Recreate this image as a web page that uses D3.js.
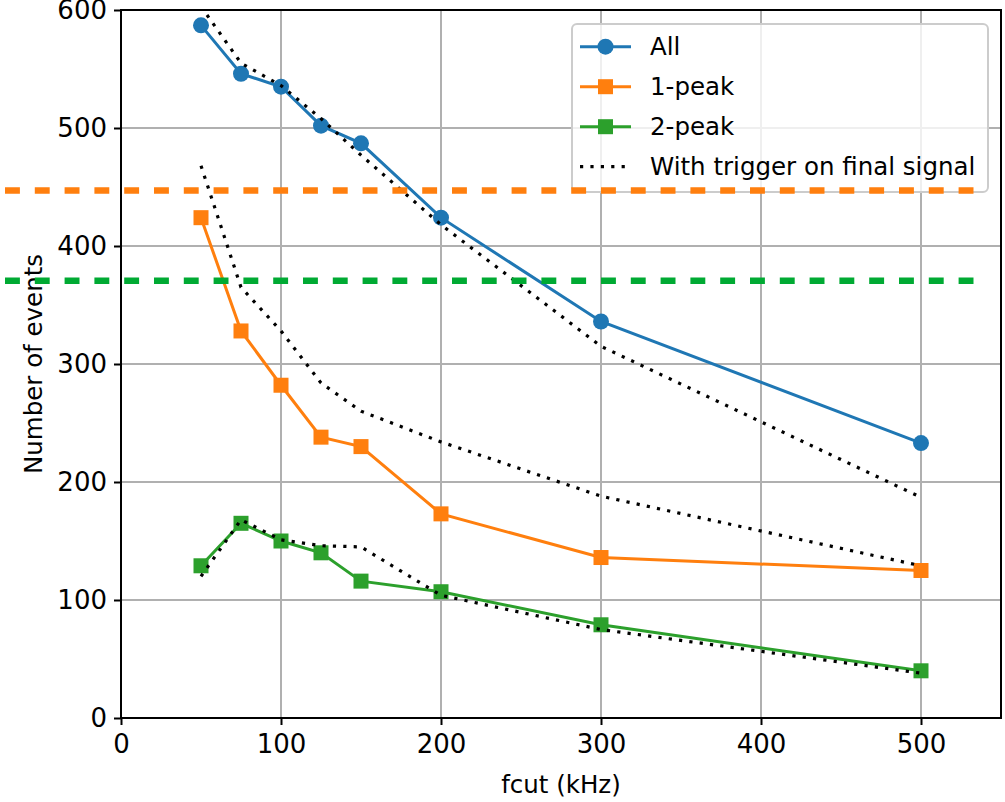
<!DOCTYPE html>
<html>
<head>
<meta charset="utf-8">
<script src="https://cdn.jsdelivr.net/npm/d3@7"></script>
<style>
  body { margin: 0; background: #fff; }
  svg { display: block; }
  text { font-family: "DejaVu Sans", sans-serif; fill: #000; }
</style>
</head>
<body>
<svg id="chart" width="1005" height="802"></svg>
<script>
// Cut-off frequencies (kHz)
const fcut = [50, 75, 100, 125, 150, 200, 300, 500];

// Event counts per selection
const allEvents = [587, 546, 535, 502, 487, 424, 336, 233];
const onePeak   = [424, 328, 282, 238, 230, 173, 136, 125];
const twoPeak   = [129, 165, 150, 140, 116, 107, 79, 40];

// Same selections with the trigger applied on the final signal
const allTrig     = [603, 555, 536, 508, 477, 418, 315, 187];
const onePeakTrig = [468, 365, 328, 284, 260, 234, 188, 129];
const twoPeakTrig = [120, 168, 151, 146, 145, 104, 75, 38];

// Reference levels
const refValues = [447, 370.5];
const refColors = ["#ff7f0e", "#00aa33"];
const refSpan = [-72.5, 542];

const xTicks = [0, 100, 200, 300, 400, 500];
const yTicks = [0, 100, 200, 300, 400, 500, 600];

const seriesNames = ["All", "1-peak", "2-peak"];
const seriesColors = ["#1f77b4", "#ff7f0e", "#2ca02c"];
const seriesMarkers = ["circle", "square", "square"];
const trigLabel = "With trigger on final signal";

const W = 1005, H = 802;
const margin = { left: 121, top: 10, right: 4, bottom: 84 };

const svg = d3.select("#chart");
const x = d3.scaleLinear().domain([0, 550]).range([margin.left, W - margin.right]);
const y = d3.scaleLinear().domain([0, 600]).range([H - margin.bottom, margin.top]);

const FS = 24.5;
const TICK_FS = 26;

svg.append("defs").append("clipPath").attr("id", "plotClip")
  .append("rect")
  .attr("x", x(0)).attr("y", y(600))
  .attr("width", x(550) - x(0)).attr("height", y(0) - y(600));

// Grid
const grid = svg.append("g").attr("stroke", "#b0b0b0").attr("stroke-width", 2);
grid.selectAll("line.vx").data(xTicks).join("line")
  .attr("x1", d => x(d)).attr("x2", d => x(d))
  .attr("y1", y(0)).attr("y2", y(600));
grid.selectAll("line.hy").data(yTicks).join("line")
  .attr("x1", x(0)).attr("x2", x(550))
  .attr("y1", d => y(d)).attr("y2", d => y(d));

// Axes
const xAxis = svg.append("g")
  .attr("transform", `translate(0,${y(0)})`)
  .call(d3.axisBottom(x).tickValues(xTicks).tickSize(7).tickPadding(10).tickFormat(d3.format("d")));
const yAxis = svg.append("g")
  .attr("transform", `translate(${x(0)},0)`)
  .call(d3.axisLeft(y).tickValues(yTicks).tickSize(7).tickPadding(7).tickFormat(d3.format("d")));
[xAxis, yAxis].forEach(g => {
  g.select(".domain").remove();
  g.selectAll(".tick line").attr("stroke", "#000").attr("stroke-width", 2);
  g.selectAll(".tick text").attr("font-size", TICK_FS).attr("font-family", "DejaVu Sans").attr("fill", "#000");
});

// Frame
svg.append("rect")
  .attr("x", x(0)).attr("y", y(600))
  .attr("width", x(550) - x(0)).attr("height", y(0) - y(600))
  .attr("fill", "none").attr("stroke", "#000").attr("stroke-width", 2);

// Axis labels
svg.append("text")
  .attr("x", (x(0) + x(550)) / 2).attr("y", 793)
  .attr("text-anchor", "middle").attr("font-size", FS)
  .text("fcut (kHz)");
svg.append("text")
  .attr("transform", `translate(33,${(y(0) + y(600)) / 2}) rotate(-90)`)
  .attr("text-anchor", "middle").attr("dy", "0.35em").attr("font-size", FS)
  .text("Number of events");

// Data series
const plot = svg.append("g").attr("clip-path", "url(#plotClip)");
const line = d3.line().x(d => x(d[0])).y(d => y(d[1]));

const series = [allEvents, onePeak, twoPeak];
const trigs = [allTrig, onePeakTrig, twoPeakTrig];

function drawMarkers(g, pts, kind, color) {
  if (kind === "circle") {
    g.selectAll("circle").data(pts).join("circle")
      .attr("cx", d => x(d[0])).attr("cy", d => y(d[1])).attr("r", 8)
      .attr("fill", color);
  } else {
    g.selectAll("rect").data(pts).join("rect")
      .attr("x", d => x(d[0]) - 7.5).attr("y", d => y(d[1]) - 7.5)
      .attr("width", 15).attr("height", 15)
      .attr("fill", color);
  }
}

series.forEach((vals, i) => {
  const pts = fcut.map((f, j) => [f, vals[j]]);
  const g = plot.append("g");
  g.append("path").attr("d", line(pts))
    .attr("fill", "none").attr("stroke", seriesColors[i]).attr("stroke-width", 3);
  drawMarkers(g, pts, seriesMarkers[i], seriesColors[i]);
});

trigs.forEach(vals => {
  const pts = fcut.map((f, j) => [f, vals[j]]);
  plot.append("path").attr("d", line(pts))
    .attr("fill", "none").attr("stroke", "#000").attr("stroke-width", 3.2)
    .attr("stroke-dasharray", "3.2 7.2");
});

// Legend
const lg = svg.append("g");
lg.append("rect")
  .attr("x", 572).attr("y", 24).attr("width", 416).attr("height", 168).attr("rx", 5)
  .attr("fill", "#fff").attr("fill-opacity", 0.8)
  .attr("stroke", "#cccccc").attr("stroke-width", 2);

const legendItems = seriesNames.map((n, i) => ({ name: n, color: seriesColors[i], marker: seriesMarkers[i], dotted: false }))
  .concat([{ name: trigLabel, color: "#000", marker: null, dotted: true }]);

legendItems.forEach((it, i) => {
  const cy = 46.7 + i * 40;
  const g = lg.append("g");
  g.append("line").attr("x1", 580).attr("x2", 631).attr("y1", cy).attr("y2", cy)
    .attr("stroke", it.color).attr("stroke-width", it.dotted ? 3.2 : 3)
    .attr("stroke-dasharray", it.dotted ? "3.2 7.2" : null);
  if (it.marker === "circle") {
    g.append("circle").attr("cx", 605.5).attr("cy", cy).attr("r", 8).attr("fill", it.color);
  } else if (it.marker === "square") {
    g.append("rect").attr("x", 598).attr("y", cy - 7.5).attr("width", 15).attr("height", 15).attr("fill", it.color);
  }
  g.append("text").attr("x", 650).attr("y", cy).attr("dy", "0.35em")
    .attr("font-size", FS).text(it.name);
});

// Reference levels, drawn across the figure
svg.append("g").selectAll("line").data(refValues).join("line")
  .attr("x1", x(refSpan[0])).attr("x2", x(refSpan[1]))
  .attr("y1", d => y(d)).attr("y2", d => y(d))
  .attr("stroke", (d, i) => refColors[i]).attr("stroke-width", 6.5)
  .attr("stroke-dasharray", "14.9 14.9");
</script>
</body>
</html>
